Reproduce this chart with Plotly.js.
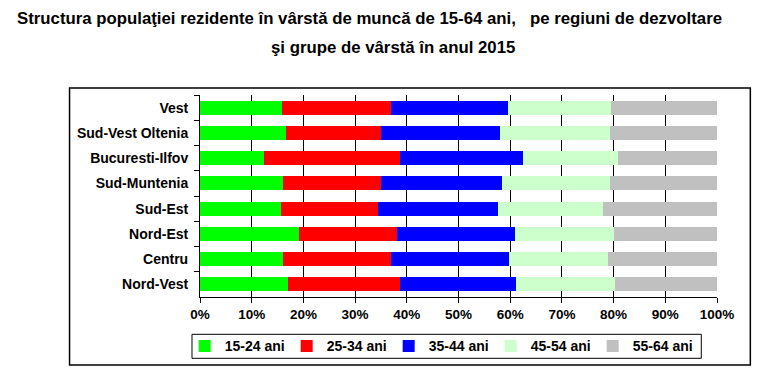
<!DOCTYPE html>
<html><head><meta charset="utf-8">
<script src="https://cdn.plot.ly/plotly-3.0.1.min.js"></script>
<style>body{margin:0;background:#fff}#chart{width:767px;height:384px}</style>
</head><body><div id="chart"></div>
<script>
const regions = ['Vest','Sud-Vest Oltenia','Bucuresti-Ilfov','Sud-Muntenia','Sud-Est','Nord-Est','Centru','Nord-Vest'];
const age15_24 = [15.8,16.6,12.3,16.0,15.6,19.2,16.0,17.0];
const age25_34 = [21.1,18.4,26.4,19.0,18.8,18.9,20.9,21.7];
const age35_44 = [22.6,23.0,23.8,23.4,23.2,22.8,22.9,22.4];
const age45_54 = [20.0,21.3,18.4,20.9,20.4,19.2,19.1,19.2];
const age55_64 = [20.5,20.7,19.1,20.7,22.0,19.9,21.1,19.7];
const seriesNames = ['15-24 ani','25-34 ani','35-44 ani','45-54 ani','55-64 ani'];
const xTickVals = [0,10,20,30,40,50,60,70,80,90,100];
const xTickText = xTickVals.map(v => v + '%');
const titleLine1 = 'Structura populaţiei rezidente în vârstă de muncă de 15-64 ani,   pe regiuni de dezvoltare';
const titleLine2 = 'şi grupe de vârstă în anul 2015';

const colors = ['#00ff00','#ff0000','#0000ff','#ccffcc','#c0c0c0'];
const allSeries = [age15_24, age25_34, age35_44, age45_54, age55_64];
const FONT = 'Liberation Sans, Arial, sans-serif';

const traces = allSeries.map((vals, i) => ({
  type: 'bar', orientation: 'h',
  x: vals, y: regions, name: seriesNames[i],
  marker: {color: colors[i], line: {width: 0}},
  width: 0.55, hoverinfo: 'x+y+name'
}));

const L = 200.3, R = 716.7, T = 95, B = 297;
const W = R - L, H = B - T;
const px = x => (x - L) / W;
const py = y => (B - y) / H;

const layout = {
  width: 767, height: 384,
  margin: {l: L, r: 767 - R, t: T, b: 384 - B, pad: 0},
  paper_bgcolor: '#fff', plot_bgcolor: '#fff',
  barmode: 'stack', bargap: 0.45,
  font: {family: FONT, size: 12, color: '#000'},
  showlegend: true,
  xaxis: {
    range: [0, 100], tickvals: xTickVals, ticktext: xTickText,
    ticks: 'outside', ticklen: 5, tickcolor: '#000', tickwidth: 1,
    showline: true, linecolor: '#000', linewidth: 1,
    showgrid: true, gridcolor: '#000', gridwidth: 1,
    zeroline: false, fixedrange: true,
    tickfont: {family: FONT, size: 13.5, color: '#000', weight: 'bold'}
  },
  yaxis: {
    type: 'category', autorange: 'reversed',
    ticks: 'outside', tickson: 'boundaries', ticklen: 5, tickcolor: '#000', tickwidth: 1,
    showline: true, linecolor: '#000', linewidth: 1,
    showgrid: false, zeroline: false, fixedrange: true,
    ticklabelstandoff: 8,
    tickfont: {family: FONT, size: 14, color: '#000', weight: 'bold'}
  },
  legend: {
    orientation: 'h', x: px(185), xanchor: 'left', y: py(346.3), yanchor: 'middle',
    borderwidth: 0, bgcolor: 'rgba(0,0,0,0)',
    entrywidth: 57, entrywidthmode: 'pixels', itemwidth: 30, traceorder: 'normal',
    font: {family: FONT, size: 14, color: '#000', weight: 'bold'}
  },
  shapes: [
    {type: 'rect', xref: 'paper', yref: 'paper',
     x0: px(70), x1: px(750), y0: py(365), y1: py(88),
     line: {color: '#000', width: 1.5}, fillcolor: 'rgba(0,0,0,0)', layer: 'below'},
    {type: 'rect', xref: 'paper', yref: 'paper',
     x0: px(192.3), x1: px(701), y0: py(358.3), y1: py(334.3),
     line: {color: '#000', width: 1}, fillcolor: 'rgba(0,0,0,0)', layer: 'below'}
  ],
  annotations: [
    {xref: 'paper', yref: 'paper', x: px(16), y: py(18), xanchor: 'left', yanchor: 'middle',
     text: titleLine1, showarrow: false,
     font: {family: FONT, size: 16.8, color: '#000', weight: 'bold'}},
    {xref: 'paper', yref: 'paper', x: px(393), y: py(47), xanchor: 'center', yanchor: 'middle',
     text: titleLine2, showarrow: false,
     font: {family: FONT, size: 16.8, color: '#000', weight: 'bold'}}
  ]
};

Plotly.newPlot('chart', traces, layout, {displayModeBar: false, staticPlot: true});
</script>
</body></html>
